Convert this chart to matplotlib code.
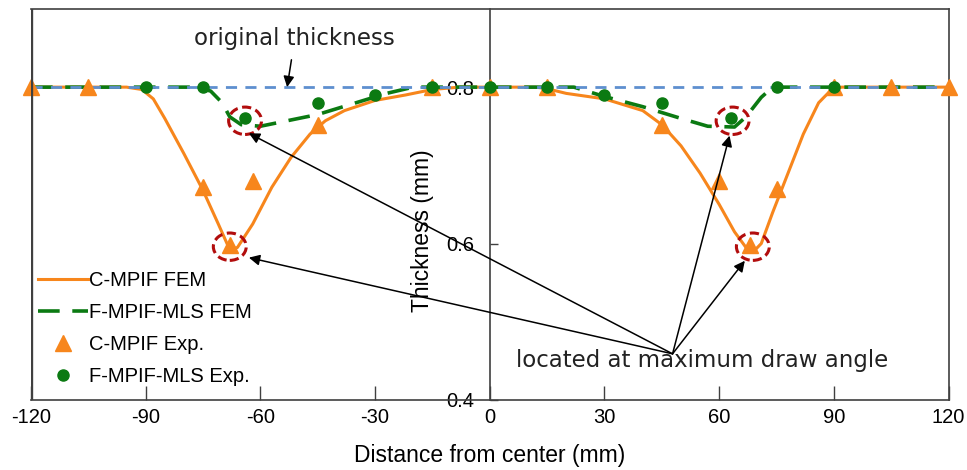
import numpy as np
import matplotlib
matplotlib.use("Agg")
from matplotlib import pyplot as plt
from matplotlib.patches import Ellipse

# FEM curves
c_fem_x = [-120, -95, -91, -88, -85, -80, -75, -71, -68, -66, -62, -57, -52, -47, -43, -38, -30, -22, -15, -8,
           0, 12, 15, 20, 30, 40, 45, 50, 55, 60, 64, 67, 69, 71, 74, 78, 82, 86, 89, 92, 120]
c_fem_y = [0.8, 0.8, 0.797, 0.785, 0.76, 0.715, 0.668, 0.625, 0.592, 0.595, 0.625, 0.672, 0.71, 0.74, 0.757, 0.77, 0.783, 0.79, 0.797, 0.8,
           0.8, 0.8, 0.798, 0.792, 0.785, 0.77, 0.752, 0.725, 0.69, 0.65, 0.615, 0.595, 0.59, 0.6, 0.64, 0.69, 0.74, 0.78, 0.795, 0.8, 0.8]

f_fem_x = [-120, -77, -73, -70, -68, -65, -60, -55, -45, -35, -27, -20, 0,
           22, 30, 40, 50, 57, 64, 67, 71, 74, 120]
f_fem_y = [0.8, 0.8, 0.795, 0.78, 0.762, 0.752, 0.75, 0.755, 0.765, 0.78, 0.792, 0.8, 0.8,
           0.8, 0.788, 0.775, 0.76, 0.75, 0.749, 0.762, 0.787, 0.8, 0.8]

# experiments
c_exp_x = [-120, -105, -75, -68, -62, -45, -15, 0, 15, 45, 60, 68, 75, 90, 105, 120]
c_exp_y = [0.8, 0.8, 0.672, 0.598, 0.68, 0.751, 0.8, 0.8, 0.8, 0.751, 0.68, 0.598, 0.67, 0.8, 0.8, 0.8]

f_exp_x = [-90, -75, -64, -45, -30, -15, 0, 15, 30, 45, 63, 75, 90]
f_exp_y = [0.8, 0.8, 0.76, 0.78, 0.79, 0.8, 0.8, 0.8, 0.79, 0.78, 0.76, 0.8, 0.8]

original = 0.8
circles = [(-68, 0.596), (-64, 0.757), (63.5, 0.757), (68.8, 0.596)]
arrow_heads = [(-63, 0.741), (-63, 0.582), (62.7, 0.738), (66.7, 0.578)]

orange = '#f7861c'
green = '#0b7a12'
blue = '#5e8fcf'
red = '#b20d0d'
spine_c = '#404040'

plt.rcParams['font.family'] = ['Liberation Sans', 'DejaVu Sans']
plt.rcParams['axes.unicode_minus'] = False

fig = plt.figure(figsize=(9.67, 4.70), dpi=100)
ax = fig.add_axes([0.032, 0.149, 0.949, 0.832])

ax.plot(c_fem_x, c_fem_y, color=orange, lw=2.2, label='C-MPIF FEM', zorder=3)
ax.plot(f_fem_x, f_fem_y, color=green, lw=2.6, dashes=(6, 3.5), label='F-MPIF-MLS FEM', zorder=4)
ax.axhline(original, color=blue, lw=2, dashes=(4, 3), zorder=5)
ax.plot(c_exp_x, c_exp_y, ls='none', marker='^', ms=11, color=orange, label='C-MPIF Exp.',
        zorder=6, clip_on=False)
ax.plot(f_exp_x, f_exp_y, ls='none', marker='o', ms=8, color=green, label='F-MPIF-MLS Exp.', zorder=7)

for cx, cy in circles:
    ax.add_patch(Ellipse((cx, cy), 8.6, 0.035, fill=False, ec=red, lw=2.2, ls=(0, (3, 1.5)), zorder=8))

ax.annotate('original thickness', xy=(-53, 0.8), xytext=(-51, 0.862),
            ha='center', va='center', fontsize=16.5, family='DejaVu Sans', color='#222222',
            arrowprops=dict(arrowstyle='-|>', color='black', lw=1.1, mutation_scale=16,
                            shrinkA=5, shrinkB=0), zorder=9)

ax.text(55.5, 0.451, 'located at maximum draw angle', ha='center', va='center',
        fontsize=16.5, family='DejaVu Sans', color='#222222')
for hx, hy in arrow_heads:
    ax.annotate('', xy=(hx, hy), xytext=(47.8, 0.459),
                arrowprops=dict(arrowstyle='-|>', color='black', lw=1.1, mutation_scale=16,
                                shrinkA=0, shrinkB=0), zorder=9)

ax.set_xlim(-120, 120)
ax.set_ylim(0.4, 0.9)
ax.set_xticks(np.arange(-120, 121, 30))
ax.set_yticks([0.4, 0.6, 0.8])
ax.tick_params(axis='x', direction='in', length=10, width=1, color=spine_c, labelsize=14.5, pad=6)
ax.tick_params(axis='y', direction='in', length=6, width=1, color=spine_c, labelsize=14.5, pad=11)

ax.spines['left'].set_position(('data', 0))
for s in ax.spines.values():
    s.set_color(spine_c)
    s.set_linewidth(1.2)
ax.axvline(-120, color=spine_c, lw=2.4, zorder=10)

ax.text(-17.5, 0.617, 'Thickness (mm)', rotation=90, ha='center', va='center', fontsize=16.5)
ax.set_xlabel('Distance from center (mm)', fontsize=16.5, labelpad=12)

ax.legend(loc='upper left', bbox_to_anchor=(-0.008, 0.367), frameon=False, fontsize=14.5,
          handlelength=2.5, handletextpad=0.05, labelspacing=0.66, borderaxespad=0.3)

fig.savefig('out.png', dpi=100)
